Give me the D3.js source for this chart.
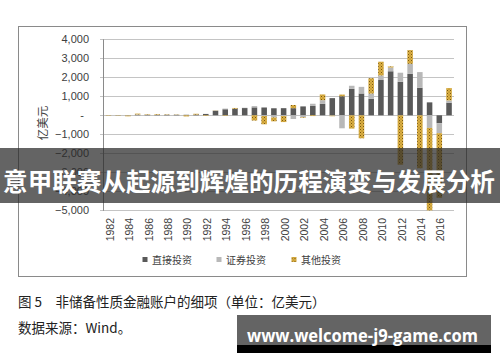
<!DOCTYPE html>
<html><head><meta charset="utf-8">
<script src="https://cdn.jsdelivr.net/npm/d3@7/dist/d3.min.js"></script>
<style>html,body{margin:0;padding:0;background:#fff;}svg{display:block;}</style>
</head><body>
<svg id="c" width="500" height="362"></svg>
<script>
const years = ["1982","1983","1984","1985","1986","1987","1988","1989","1990","1991","1992","1993","1994","1995","1996","1997","1998","1999","2000","2001","2002","2003","2004","2005","2006","2007","2008","2009","2010","2011","2012","2013","2014","2015","2016","2017"];
const direct    = [4, 8, 13, 13, 19, 17, 23, 26, 27, 35, 72, 231, 318, 338, 381, 417, 411, 370, 375, 374, 468, 494, 601, 904, 1001, 1391, 1148, 872, 1857, 2317, 1763, 2180, 1450, 681, -417, 663];
const portfolio = [1, -6, -16, 30, 16, 11, 9, -2, -2, 2, -1, 30, 35, 8, 17, 69, -37, -112, -40, -194, -103, 114, 197, -20, -684, 164, 349, 271, 240, 196, 478, 529, 824, -665, -523, 120];
const other     = [-20, -16, -38, 46, 25, 33, 20, 14, -58, 43, -30, 10, -27, 40, -1, -276, -437, -205, -316, 167, -30, -40, 300, -30, 90, -699, -1211, 808, 724, 60, -2601, 722, -2788, -4340, -3400, 650];
const seriesNames = ["直接投资", "证券投资", "其他投资"];
const yTicks = [4000, 3000, 2000, 1000, 0, -1000, -2000, -3000, -4000, -5000];
const xTickLabels = ["1982","1984","1986","1988","1990","1992","1994","1996","1998","2000","2002","2004","2006","2008","2010","2012","2014","2016"];
const yTitle = "亿美元";
const bannerText = "意甲联赛从起源到辉煌的历程演变与发展分析";
const captionText = "图 5　非储备性质金融账户的细项（单位：亿美元）";
const sourceText = "数据来源：Wind。";
const watermarkText = "www.welcome-j9-game.com";

const svg = d3.select("#c");
const defs = svg.append("defs");
const pat = defs.append("pattern").attr("id","dots").attr("patternUnits","userSpaceOnUse").attr("width",3).attr("height",3);
pat.append("rect").attr("width",3).attr("height",3).attr("fill","#dcb043");
pat.append("rect").attr("x",0).attr("y",0).attr("width",1).attr("height",1).attr("fill","#7a5812");
pat.append("rect").attr("x",1.5).attr("y",1.5).attr("width",1).attr("height",1).attr("fill","#9a7420");

const colors = ["#595959", "#b8b8b8", "url(#dots)"];

svg.append("rect").attr("x",18.5).attr("y",26.5).attr("width",448).attr("height",250)
  .attr("fill","#fff").attr("stroke","#8a8a8a").attr("stroke-width",1);

const x = d3.scaleBand().domain(years).range([103.6, 453.9]).paddingInner(0.43).paddingOuter(0.215);
const y = d3.scaleLinear().domain([-5000, 4000]).range([210.3, 39.3]);

svg.append("g").selectAll("line").data(yTicks).join("line")
  .attr("x1",100).attr("x2",454).attr("y1",d=>Math.round(y(d))+0.5).attr("y2",d=>Math.round(y(d))+0.5)
  .attr("stroke","#c4c4c4").attr("stroke-width",1);

const fmt = d => d === 0 ? "-" : d3.format(",")(d);
svg.append("g").selectAll("text").data(yTicks).join("text")
  .attr("x", d => d===0 ? 84 : 89).attr("y", d => y(d)).attr("dy","0.35em")
  .attr("text-anchor","end").attr("font-family","Liberation Sans, Arial, sans-serif")
  .attr("font-size",11).attr("fill","#404040").text(fmt);

svg.append("text").attr("transform","translate(43,123) rotate(-90)")
  .attr("text-anchor","middle").attr("dy","0.35em")
  .attr("font-family","Noto Sans CJK SC, sans-serif").attr("font-size",11.5).attr("fill","#404040").text(yTitle);

const table = years.map((yr,i)=>({year:yr, "直接投资":direct[i], "证券投资":portfolio[i], "其他投资":other[i]}));
const stack = d3.stack().keys(seriesNames).offset(d3.stackOffsetDiverging)(table);
svg.append("g").selectAll("g").data(stack).join("g")
  .attr("fill",(d,i)=>colors[i])
  .selectAll("rect").data(d=>d).join("rect")
  .attr("x", d=>x(d.data.year)).attr("width", x.bandwidth())
  .attr("y", d=>y(Math.max(d[0],d[1]))).attr("height", d=>Math.abs(y(d[0])-y(d[1])));

svg.append("line").attr("x1",103.5).attr("x2",103.5).attr("y1",y(4000)).attr("y2",y(-5000)+0.5)
  .attr("stroke","#8a8a8a").attr("stroke-width",1);

svg.append("g").selectAll("text").data(xTickLabels).join("text")
  .attr("transform", d=>`translate(${x(d)+x.bandwidth()/2+1.5},218) rotate(-90)`)
  .attr("text-anchor","end").attr("dy","0.35em")
  .attr("font-family","Liberation Sans, Arial, sans-serif").attr("font-size",10.5).attr("fill","#404040").text(d=>d);

const legX = [142.5, 216.5, 291.5];
const lg = svg.append("g").selectAll("g").data(seriesNames).join("g")
  .attr("transform",(d,i)=>`translate(${legX[i]},0)`);
lg.append("rect").attr("x",0).attr("y",257).attr("width",5).attr("height",5).attr("fill",(d,i)=>colors[i]);
lg.append("text").attr("x",9.5).attr("y",260).attr("dy","0.35em")
  .attr("font-family","Noto Sans CJK SC, sans-serif").attr("font-size",10).attr("fill","#404040").text(d=>d);

svg.append("text").attr("x",18).attr("y",307).attr("font-family","Noto Sans CJK SC, sans-serif")
  .attr("font-size",13.5).attr("fill","#222").text(captionText);
svg.append("text").attr("x",18).attr("y",333).attr("font-family","Noto Sans CJK SC, sans-serif")
  .attr("font-size",13.5).attr("fill","#222").text(sourceText);

svg.append("rect").attr("x",0).attr("y",148).attr("width",500).attr("height",55).attr("fill","rgba(40,40,40,0.72)");
svg.append("text").attr("x",249).attr("y",191).attr("text-anchor","middle")
  .attr("font-family","Noto Sans CJK SC, sans-serif").attr("font-weight",700).attr("font-size",24.6)
  .attr("fill","#fff").text(bannerText);

svg.append("rect").attr("x",237).attr("y",315).attr("width",254).attr("height",30).attr("fill","#646464");
svg.append("rect").attr("x",237).attr("y",345).attr("width",254).attr("height",8).attr("fill","#000");
svg.append("text").attr("x",247).attr("y",341.5)
  .attr("font-family","Open Sans, DejaVu Sans, sans-serif").attr("font-weight",700).attr("font-size",17)
  .attr("textLength",231).attr("lengthAdjust","spacingAndGlyphs")
  .attr("fill","#fff").text(watermarkText);
</script>
</body></html>
